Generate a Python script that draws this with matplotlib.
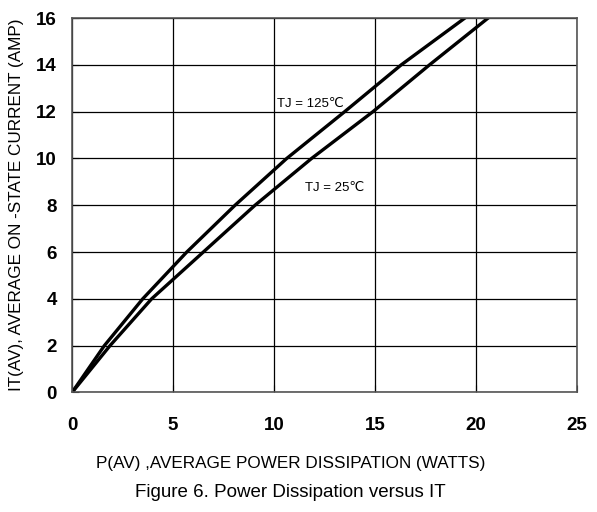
import matplotlib

matplotlib.use("Agg")

import matplotlib.pyplot as plt

plt.rcParams["font.family"] = ["Liberation Sans", "DejaVu Sans"]

# Curves (power W, current A)
p_125 = [0, 1.6, 3.5, 5.68, 8.07, 10.63, 13.5, 16.3, 19.45]
i_125 = [0, 2.0, 4.0, 6.0, 8.0, 10.0, 12.0, 14.0, 16.0]
p_25 = [0, 1.88, 3.94, 6.5, 9.06, 11.86, 14.9, 17.7, 20.6]
i_25 = [0, 2.0, 4.0, 6.0, 8.0, 10.0, 12.0, 14.0, 16.0]

x_ticks = [0, 5, 10, 15, 20, 25]
y_ticks = [0, 2, 4, 6, 8, 10, 12, 14, 16]

fig = plt.figure(figsize=(5.97, 5.12), dpi=100)
ax = fig.add_axes([0.1206, 0.2334, 0.8459, 0.7314])

ax.plot(p_125, i_125, color="black", linewidth=2.4, solid_joinstyle="round")
ax.plot(p_25, i_25, color="black", linewidth=2.4, solid_joinstyle="round")

ax.set_xlim(0, 25)
ax.set_ylim(0, 16)
ax.set_xticks(x_ticks)
ax.set_yticks(y_ticks)
ax.grid(True, color="black", linewidth=0.9)
for s in ax.spines.values():
    s.set_color("#555555")
    s.set_linewidth(1.2)

ax.tick_params(axis="x", direction="in", length=5, pad=18, labelsize=13.5)
ax.tick_params(axis="y", direction="in", length=5, pad=11, labelsize=13.5)
for lbl in ax.get_xticklabels() + ax.get_yticklabels():
    lbl.set_fontweight("bold")

ax.text(10.15, 12.35, "TJ = 125℃", fontsize=9.5, va="center", ha="left")
ax.text(11.55, 8.72, "TJ = 25℃", fontsize=9.5, va="center", ha="left")

fig.text(17 / 597, 0.6, "IT(AV), AVERAGE ON -STATE CURRENT (AMP)", fontsize=12.3,
         rotation=90, ha="center", va="center")
fig.text(0.487, 0.094, "P(AV) ,AVERAGE POWER DISSIPATION (WATTS)", fontsize=12.3,
         ha="center", va="center")
fig.text(0.487, 0.039, "Figure 6. Power Dissipation versus IT", fontsize=13.5,
         ha="center", va="center")

fig.savefig("out.png", dpi=100)
